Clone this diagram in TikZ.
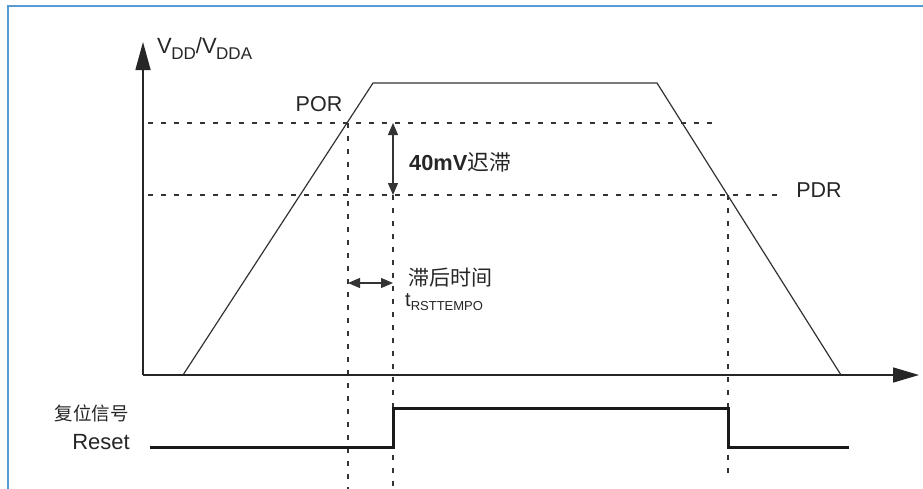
\documentclass[tikz,border=0pt]{standalone}
\usepackage{fontspec}
\setmainfont{Liberation Sans}
\newfontfamily\cjk{Noto Sans CJK SC}
\usetikzlibrary{arrows.meta}
\begin{document}
\begin{tikzpicture}[x=1pt,y=-1pt,
  axis/.style={line width=1.5pt, draw=black!85},
  curve/.style={line width=1.2pt, draw=black!80},
  guide/.style={line width=1.3pt, draw=black!80, dash pattern=on 5pt off 8pt},
  dim/.style={line width=1.2pt, draw=black!80, {Triangle[length=12pt,width=10pt]}-{Triangle[length=12pt,width=10pt]}},
  sig/.style={line width=3pt, draw=black!90, line join=miter},
  lbl/.style={inner sep=0pt, font=\fontsize{21.5}{24}\selectfont, text=black!85}]
\useasboundingbox (0,0) rectangle (923,488);
\clip (0,0) rectangle (923,488);
\fill[white] (0,0) rectangle (923,488);
\draw[line width=2.2pt, draw={rgb,255:red,88;green,155;blue,210}] (8,6) rectangle (960,520);
% coordinates
\coordinate (O) at (143,375);
\coordinate (Ytip) at (143,42);
\coordinate (Xtip) at (919,375);
\coordinate (A) at (183,375);
\coordinate (B) at (373,83);
\coordinate (C) at (657,83);
\coordinate (D) at (841,375);
\coordinate (P1) at (148,123);
\coordinate (P2) at (717,123);
\coordinate (Q1) at (148,195);
\coordinate (Q2) at (782,195);
\coordinate (V1t) at (348,123);
\coordinate (V1b) at (348,492);
\coordinate (V2t) at (393,195);
\coordinate (V2b) at (393,492);
\coordinate (V3t) at (728,195);
\coordinate (V3b) at (728,476);
\coordinate (H1) at (393,123);
\coordinate (H2) at (393,195);
\coordinate (T1) at (348,283);
\coordinate (T2) at (393,283);
\coordinate (R0) at (150,447);
\coordinate (R1) at (393,447);
\coordinate (R2) at (393,408);
\coordinate (R3) at (728,408);
\coordinate (R4) at (728,447);
\coordinate (R5) at (849,447);
% guides
\draw[guide] (P1) -- (P2);
\draw[guide] (Q1) -- (Q2);
\draw[guide] (V1t) -- (V1b);
\draw[guide] (V2t) -- (V2b);
\draw[guide] (V3t) -- (V3b);
% curve
\draw[curve, line join=miter] (A) -- (B) -- (C) -- (D);
% axes
\draw[axis, -{Triangle[length=28pt,width=15pt]}] (O) -- (Ytip);
\draw[axis, -{Triangle[length=26pt,width=15pt]}] (O) -- (Xtip);
% dimension arrows
\draw[dim] (H1) -- (H2);
\draw[dim] (T1) -- (T2);
% reset signal
\draw[sig] (R0) -- (R1) -- (R2) -- (R3) -- (R4) -- (R5);
% labels
\node[lbl, anchor=base west, font=\fontsize{22}{24}\selectfont] (vdd) at (157,53) {V\kern-0.5pt\raisebox{-0.3em}{\fontsize{17}{17}\selectfont DD}/V\kern-0.5pt\raisebox{-0.3em}{\fontsize{17}{17}\selectfont DDA}};
\node[lbl] (por) at (319,104) {POR};
\node[lbl] (pdr) at (819,190) {PDR};
\node[lbl, anchor=west, font=\fontsize{21.8}{24}\selectfont] (hys) at (409,162) {\textbf{40mV}{\cjk 迟滞}};
\node[lbl, anchor=west, font=\fontsize{21}{24}\selectfont] (lag) at (408,278) {\cjk 滞后时间};
\node[lbl, anchor=base west, font=\fontsize{20}{24}\selectfont] (trst) at (405,306) {t\raisebox{-0.2em}{\fontsize{13}{13}\selectfont RSTTEMPO}};
\node[lbl, anchor=east, font=\fontsize{18.5}{20}\selectfont] (fw) at (129,413) {\cjk 复位信号};
\node[lbl, anchor=east, font=\fontsize{22}{24}\selectfont] (rst) at (130,442) {Reset};
\end{tikzpicture}
\end{document}
